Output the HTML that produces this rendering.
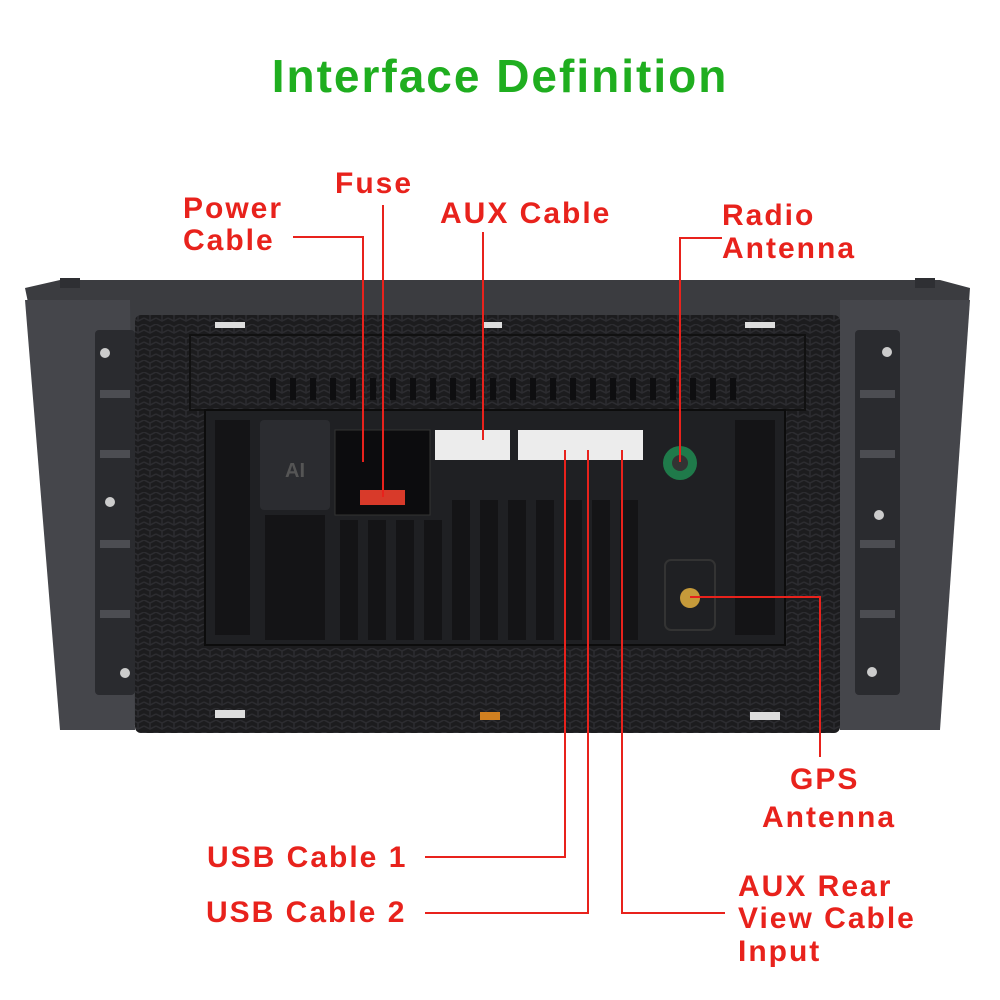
<!DOCTYPE html>
<html><head><meta charset="utf-8"><style>
html,body{margin:0;padding:0;background:#fff;}
svg{display:block}
text{font-family:"Liberation Sans",Arial,sans-serif;font-weight:bold;}
</style></head><body>
<svg width="1000" height="1000" viewBox="0 0 1000 1000" xmlns="http://www.w3.org/2000/svg">
<defs>
<pattern id="cf" width="12" height="12" patternUnits="userSpaceOnUse">
<rect width="12" height="12" fill="#1c1c1e"/>
<path d="M0 0L6 3L12 0M0 6L6 9L12 6M6 3V9" stroke="#2c2c30" stroke-width="1.5" fill="none"/>
</pattern>
</defs>
<text x="500" y="92" text-anchor="middle" font-size="46" letter-spacing="2" fill="#1fae1f">Interface Definition</text>

<path d="M25 288 L60 280 L940 280 L970 288 L965 360 L940 725 L60 725 L40 360 Z" fill="#3b3c40"/>
<rect x="60" y="278" width="20" height="10" fill="#2e2f33"/>
<rect x="915" y="278" width="20" height="10" fill="#2e2f33"/>
<path d="M25 300 L130 300 L135 730 L60 730 Z" fill="#45464b"/>
<path d="M970 300 L840 300 L840 730 L940 730 Z" fill="#45464b"/>
<rect x="95" y="330" width="40" height="365" rx="4" fill="#2a2b2f"/>
<rect x="855" y="330" width="45" height="365" rx="4" fill="#2a2b2f"/>
<g fill="#4c4d52">
<rect x="100" y="390" width="30" height="8"/><rect x="100" y="450" width="30" height="8"/><rect x="100" y="540" width="30" height="8"/><rect x="100" y="610" width="30" height="8"/>
<rect x="860" y="390" width="35" height="8"/><rect x="860" y="450" width="35" height="8"/><rect x="860" y="540" width="35" height="8"/><rect x="860" y="610" width="35" height="8"/>
</g>
<g fill="#ccc"><circle cx="105" cy="353" r="5"/><circle cx="110" cy="502" r="5"/><circle cx="125" cy="673" r="5"/><circle cx="887" cy="352" r="5"/><circle cx="879" cy="515" r="5"/><circle cx="872" cy="672" r="5"/></g>
<rect x="135" y="315" width="705" height="418" rx="6" fill="url(#cf)"/>
<rect x="190" y="335" width="615" height="75" fill="url(#cf)" stroke="#111" stroke-width="2"/>
<g fill="#0e0e10">
<rect x="270" y="378" width="6" height="22"/><rect x="290" y="378" width="6" height="22"/><rect x="310" y="378" width="6" height="22"/><rect x="330" y="378" width="6" height="22"/><rect x="350" y="378" width="6" height="22"/><rect x="370" y="378" width="6" height="22"/><rect x="390" y="378" width="6" height="22"/><rect x="410" y="378" width="6" height="22"/><rect x="430" y="378" width="6" height="22"/><rect x="450" y="378" width="6" height="22"/><rect x="470" y="378" width="6" height="22"/><rect x="490" y="378" width="6" height="22"/><rect x="510" y="378" width="6" height="22"/><rect x="530" y="378" width="6" height="22"/><rect x="550" y="378" width="6" height="22"/><rect x="570" y="378" width="6" height="22"/><rect x="590" y="378" width="6" height="22"/><rect x="610" y="378" width="6" height="22"/><rect x="630" y="378" width="6" height="22"/><rect x="650" y="378" width="6" height="22"/><rect x="670" y="378" width="6" height="22"/><rect x="690" y="378" width="6" height="22"/><rect x="710" y="378" width="6" height="22"/><rect x="730" y="378" width="6" height="22"/>
</g>
<rect x="205" y="410" width="580" height="235" fill="#1f2023" stroke="#0c0c0c" stroke-width="2"/>
<rect x="260" y="420" width="70" height="90" rx="4" fill="#2b2c30"/>
<text x="295" y="477" text-anchor="middle" font-size="20" fill="#555" font-weight="normal">AI</text>
<rect x="265" y="515" width="60" height="125" fill="#141416"/>
<rect x="335" y="430" width="95" height="85" fill="#0c0c0e" stroke="#333"/>
<rect x="360" y="490" width="45" height="15" fill="#d83a2a"/>
<rect x="435" y="430" width="75" height="30" fill="#ececec"/>
<rect x="518" y="430" width="125" height="30" fill="#ececec"/>
<circle cx="680" cy="463" r="17" fill="#1f7a4a"/><circle cx="680" cy="463" r="8" fill="#333"/>
<circle cx="690" cy="598" r="10" fill="#c59a3a"/>
<rect x="665" y="560" width="50" height="70" rx="6" fill="none" stroke="#333" stroke-width="2"/>
<g fill="#141416">
<rect x="340" y="520" width="18" height="120"/><rect x="368" y="520" width="18" height="120"/><rect x="396" y="520" width="18" height="120"/><rect x="424" y="520" width="18" height="120"/><rect x="452" y="500" width="18" height="140"/><rect x="480" y="500" width="18" height="140"/><rect x="508" y="500" width="18" height="140"/><rect x="536" y="500" width="18" height="140"/><rect x="564" y="500" width="18" height="140"/><rect x="592" y="500" width="18" height="140"/><rect x="620" y="500" width="18" height="140"/>
<rect x="215" y="420" width="35" height="215"/><rect x="735" y="420" width="40" height="215"/>
</g>
<rect x="215" y="710" width="30" height="8" fill="#ddd"/><rect x="480" y="712" width="20" height="8" fill="#d08020"/><rect x="750" y="712" width="30" height="8" fill="#ddd"/>
<rect x="215" y="322" width="30" height="6" fill="#ddd"/><rect x="482" y="322" width="20" height="6" fill="#ddd"/><rect x="745" y="322" width="30" height="6" fill="#ddd"/>

<g stroke="#e8221c" stroke-width="2" fill="none">
<polyline points="293,237 363,237 363,462"/>
<polyline points="383,205 383,497"/>
<polyline points="483,232 483,440"/>
<polyline points="722,238 680,238 680,462"/>
<polyline points="690,597 820,597 820,757"/>
<polyline points="425,857 565,857 565,450"/>
<polyline points="425,913 588,913 588,450"/>
<polyline points="725,913 622,913 622,450"/>
</g>
<g font-size="30" fill="#e8221c" letter-spacing="2">
<text x="183" y="218">Power</text><text x="183" y="250">Cable</text>
<text x="335" y="193">Fuse</text>
<text x="440" y="223">AUX Cable</text>
<text x="722" y="225">Radio</text><text x="722" y="258">Antenna</text>
<text x="790" y="789">GPS</text><text x="762" y="827">Antenna</text>
<text x="207" y="867">USB Cable 1</text>
<text x="206" y="922">USB Cable 2</text>
<text x="738" y="896">AUX Rear</text><text x="738" y="928">View Cable</text><text x="738" y="961">Input</text>
</g>
</svg>
</body></html>
